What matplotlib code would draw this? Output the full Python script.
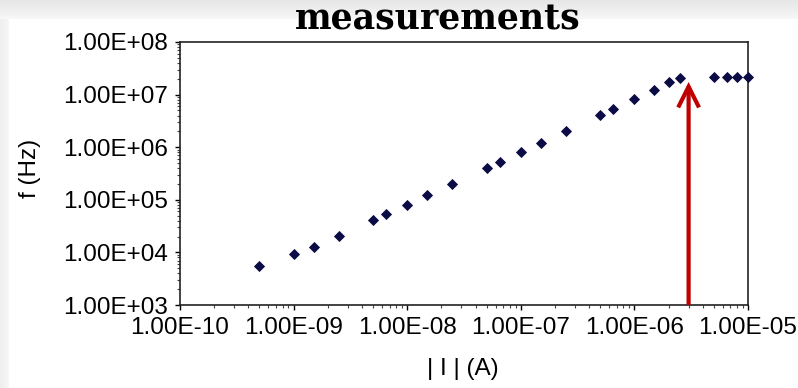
import matplotlib
matplotlib.use("Agg")
import matplotlib.pyplot as plt
from matplotlib.patches import FancyArrowPatch
from matplotlib.ticker import LogLocator, FixedLocator, NullFormatter
import numpy as np

# Data
current_A = [5e-10, 1e-9, 1.5e-9, 2.5e-9, 5e-9, 6.5e-9, 1e-8, 1.5e-8, 2.5e-8,
             5e-8, 6.5e-8, 1e-7, 1.5e-7, 2.5e-7, 5e-7, 6.5e-7, 1e-6, 1.5e-6,
             2e-6, 2.5e-6, 5e-6, 6.5e-6, 8e-6, 1e-5]
freq_Hz = [5.5e3, 9.3e3, 1.26e4, 2.05e4, 4.1e4, 5.4e4, 7.9e4, 1.23e5, 2.0e5,
           4.0e5, 5.2e5, 8.1e5, 1.2e6, 2.0e6, 4.1e6, 5.3e6, 8.2e6, 1.22e7,
           1.7e7, 2.07e7, 2.17e7, 2.17e7, 2.17e7, 2.17e7]
x_ticks = [1e-10, 1e-9, 1e-8, 1e-7, 1e-6, 1e-5]
x_tick_labels = ["1.00E-10", "1.00E-09", "1.00E-08", "1.00E-07", "1.00E-06", "1.00E-05"]
y_ticks = [1e3, 1e4, 1e5, 1e6, 1e7, 1e8]
y_tick_labels = ["1.00E+03", "1.00E+04", "1.00E+05", "1.00E+06", "1.00E+07", "1.00E+08"]
arrow_x = 3e-6
arrow_tip_y = 1.74e7

W, H = 798, 388
fig = plt.figure(figsize=(W / 100, H / 100), dpi=100)
fig.patch.set_facecolor("#f2f2f2")

# light gray slide frame: gradient strip on top, strip on the left
bg = fig.add_axes([0, 0, 1, 1], zorder=-10)
bg.set_axis_off()
grad = np.ones((H, W))
top = np.linspace(0.90, 0.965, 19)
grad[:19, :] = top[:, None]
left = np.linspace(0.93, 0.965, 9)
grad[19:, :9] = left[None, :]
bg.imshow(grad, cmap="gray", vmin=0, vmax=1, extent=[0, 1, 0, 1],
          aspect="auto", interpolation="nearest")

font = "Liberation Sans"
fs = 17.5

ax = fig.add_axes([180 / W, 83 / H, 568 / W, 263 / H])
ax.set_xscale("log")
ax.set_yscale("log")
ax.set_xlim(1e-10, 1e-5)
ax.set_ylim(1e3, 1e8)
ax.set_facecolor("white")

ax.plot(current_A, freq_Hz, linestyle="none", marker="D", markersize=4.6,
        markerfacecolor="#0b0b45", markeredgecolor="#0b0b45", markeredgewidth=0.6,
        clip_on=False, zorder=5)

ax.xaxis.set_major_locator(FixedLocator(x_ticks))
ax.set_xticklabels(x_tick_labels, fontfamily=font, fontsize=fs)
ax.yaxis.set_major_locator(FixedLocator(y_ticks))
ax.set_yticklabels(y_tick_labels, fontfamily=font, fontsize=fs)
ax.xaxis.set_minor_locator(LogLocator(base=10, subs=np.arange(2, 10), numticks=20))
ax.yaxis.set_minor_locator(LogLocator(base=10, subs=np.arange(2, 10), numticks=20))
ax.xaxis.set_minor_formatter(NullFormatter())
ax.yaxis.set_minor_formatter(NullFormatter())
ax.tick_params(axis="x", which="major", direction="out", length=3.6, width=1,
               color="black", labelcolor="black", pad=5)
ax.tick_params(axis="y", which="major", direction="out", length=3.6, width=1,
               color="black", labelcolor="black", pad=5)
ax.tick_params(axis="both", which="minor", direction="out", length=2.2, width=0.8,
               color="#444444")
for s in ax.spines.values():
    s.set_linewidth(1.2)
    s.set_color("#222222")

fig.text(463 / W, (H - 369) / H, "| I | (A)", ha="center", va="center",
         fontfamily=font, fontsize=fs, color="black")
fig.text(30 / W, (H - 168) / H, "f (Hz)", ha="center", va="center", rotation=90,
         fontfamily=font, fontsize=fs, color="black")

arrow = FancyArrowPatch((arrow_x, 1e3), (arrow_x, arrow_tip_y),
                        arrowstyle="->,head_length=1.5,head_width=0.75",
                        mutation_scale=10, color="#c00000", lw=3,
                        shrinkA=0, shrinkB=0, zorder=6, clip_on=False,
                        capstyle="butt", joinstyle="miter")
ax.add_patch(arrow)

fig.text(438 / W, (H - 29) / H, "measurements", ha="center", va="baseline",
         fontfamily="DejaVu Serif", fontweight="bold", fontsize=25, color="black")

fig.savefig("out.png", dpi=100, facecolor=fig.get_facecolor())
